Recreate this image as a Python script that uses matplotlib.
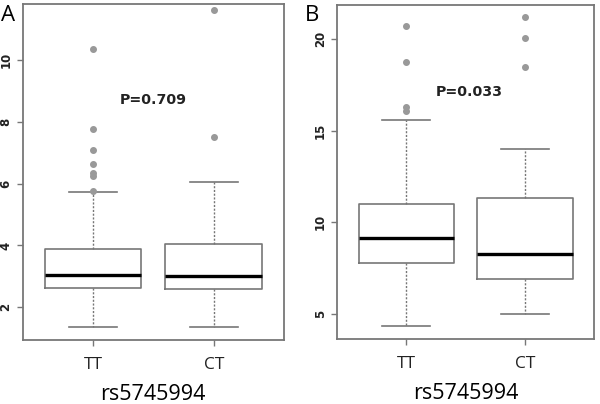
import matplotlib.pyplot as plt

plt.rcParams["font.family"] = ["Open Sans", "DejaVu Sans"]

# genotype groups
groups = ["TT", "CT"]

# panel A box statistics
a_low = [1.35, 1.35]
a_q1 = [2.61, 2.59]
a_med = [3.06, 3.01]
a_q3 = [3.87, 4.06]
a_high = [5.74, 6.05]
a_fliers = [[5.75, 6.23, 6.33, 6.63, 7.1, 7.75, 10.34], [7.5, 11.6]]

# panel B box statistics
b_low = [4.33, 5.0]
b_q1 = [7.78, 6.93]
b_med = [9.15, 8.28]
b_q3 = [11.0, 11.34]
b_high = [15.58, 14.02]
b_fliers = [[16.1, 16.3, 18.76, 20.69], [18.5, 20.05, 21.2]]

p_values = ["P=0.709", "P=0.033"]
snp = "rs5745994"

fig = plt.figure(figsize=(6, 4.04), dpi=100)
ax_a = fig.add_axes([0.038, 0.158, 0.435, 0.832])
ax_b = fig.add_axes([0.562, 0.161, 0.428, 0.827])

grey = "#777777"


def make_stats(low, q1, med, q3, high, fliers):
    return [dict(whislo=low[i], q1=q1[i], med=med[i], q3=q3[i], whishi=high[i],
                 fliers=fliers[i], label=groups[i]) for i in range(len(groups))]


def draw(ax, stats, ylim, yticks, ptext, pxy, letter, lx):
    ax.bxp(stats, positions=[1, 2], widths=0.8, showfliers=True,
           boxprops=dict(color=grey, linewidth=1.2),
           medianprops=dict(color="black", linewidth=2.4),
           whiskerprops=dict(color=grey, linewidth=1.0, linestyle=(0, (1.5, 1.2))),
           capprops=dict(color=grey, linewidth=1.2),
           capwidths=0.4,
           flierprops=dict(marker="o", markerfacecolor="#999999",
                           markeredgecolor="#999999", markersize=4))
    ax.set_xlim(0.42, 2.58)
    ax.set_ylim(*ylim)
    ax.set_yticks(yticks)
    ax.set_yticklabels([str(t) for t in yticks], rotation=90, va="center",
                       fontsize=8.5, fontweight="bold", color="#222222",
                       family="DejaVu Sans")
    ax.set_xticks([1, 2])
    ax.set_xticklabels(groups, fontsize=12.5, color="#111111")
    ax.tick_params(axis="both", colors=grey, length=4, width=1, labelcolor="#222222")
    ax.tick_params(axis="x", pad=8)
    for s in ax.spines.values():
        s.set_color(grey)
        s.set_linewidth(1.3)
    ax.set_xlabel(snp, fontsize=15.5, labelpad=8)
    ax.text(pxy[0], pxy[1], ptext, fontsize=10.2, fontweight="bold",
            family="DejaVu Sans", ha="center", va="center", color="#222222")
    fig.text(lx, 0.962, letter, fontsize=16, ha="left", va="center")


draw(ax_a, make_stats(a_low, a_q1, a_med, a_q3, a_high, a_fliers),
     (0.94, 11.8), [2, 4, 6, 8, 10], p_values[0], (1.5, 8.7), "A", 0.002)
draw(ax_b, make_stats(b_low, b_q1, b_med, b_q3, b_high, b_fliers),
     (3.63, 21.87), [5, 10, 15, 20], p_values[1], (1.53, 17.1), "B", 0.508)

fig.savefig("out.png", dpi=100)
